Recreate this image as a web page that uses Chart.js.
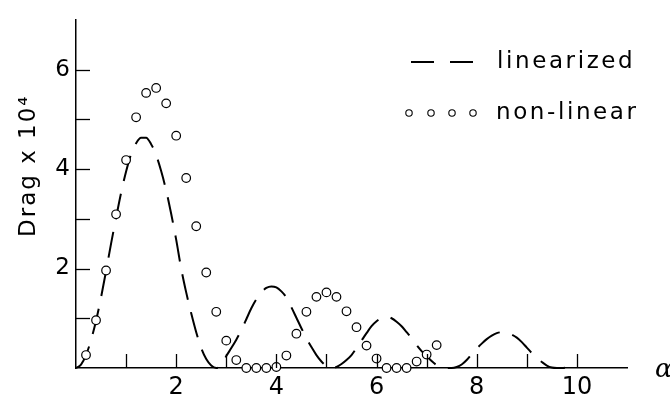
<!DOCTYPE html>
<html>
<head>
<meta charset="utf-8">
<script src="https://cdn.jsdelivr.net/npm/chart.js@4/dist/chart.umd.min.js"></script>
<style>
html,body{margin:0;padding:0;background:#fff;}
#wrap{width:670px;height:394px;position:relative;}
</style>
</head>
<body>
<div id="wrap"><canvas id="c" width="670" height="394"></canvas></div>
<script>
// ---- data ----
const linX = [0,0.1,0.2,0.3,0.4,0.5,0.6,0.7,0.8,0.9,1.0,1.1,1.2,1.3,1.4,1.5,1.6,1.7,1.8,1.9,
  2.0,2.1,2.2,2.3,2.4,2.5,2.6,2.7,2.8,2.9,3.0,3.1,3.2,3.3,3.4,3.5,3.6,3.7,3.8,3.9,
  4.0,4.1,4.2,4.3,4.4,4.5,4.6,4.7,4.8,4.9,5.0,5.1,5.2,5.3,5.4,5.5,5.6,5.7,5.8,5.9,
  6.0,6.1,6.2,6.3,6.4,6.5,6.6,6.7,6.8,6.9,7.0,7.1,7.2,7.3,7.4,7.5,7.6,7.7,7.8,7.9,
  8.0,8.1,8.2,8.3,8.4,8.5,8.6,8.7,8.8,8.9,9.0,9.1,9.2,9.3,9.4,9.5,9.6,9.7,9.8,9.9];
const linY = [0,0.07,0.26,0.56,0.95,1.42,1.95,2.50,3.02,3.52,3.95,4.30,4.52,4.63,4.63,4.50,4.28,3.96,3.57,3.10,
  2.58,2.00,1.52,1.10,0.72,0.40,0.18,0.05,0.0,0.06,0.24,0.40,0.57,0.76,0.98,1.20,1.38,1.52,1.61,1.64,
  1.62,1.54,1.42,1.22,1.01,0.80,0.60,0.42,0.26,0.13,0.04,0.0,0.02,0.08,0.16,0.26,0.40,0.55,0.70,0.84,
  0.94,1.00,1.03,1.00,0.93,0.84,0.72,0.60,0.46,0.34,0.24,0.14,0.06,0.02,0.0,0.0,0.02,0.07,0.16,0.28,
  0.39,0.49,0.58,0.65,0.70,0.72,0.71,0.67,0.61,0.52,0.41,0.30,0.20,0.12,0.05,0.01,0.0,0.0,0.01,0.03];
const nlX = [0.2,0.4,0.6,0.8,1.0,1.2,1.4,1.6,1.8,2.0,2.2,2.4,2.6,2.8,3.0,3.2,3.4,3.6,3.8,4.0,
  4.2,4.4,4.6,4.8,5.0,5.2,5.4,5.6,5.8,6.0,6.2,6.4,6.6,6.8,7.0,7.2];
const nlY = [0.26,0.96,1.96,3.09,4.18,5.04,5.53,5.63,5.32,4.67,3.82,2.85,1.92,1.13,0.55,0.16,0.0,0.0,0.0,0.02,
  0.25,0.69,1.13,1.43,1.52,1.43,1.14,0.82,0.45,0.19,0.0,0.0,0.0,0.13,0.27,0.46];
const xLabels = [2,4,6,8,10];
const yLabels = [2,4,6];
const seriesNames = ['linearized','non-linear'];
const yTitle = 'Drag x 10\u2074';
const xTitle = '\u03B1';

const FONT = '"DejaVu Sans", sans-serif';

const customPlugin = {
  id: 'custom',
  afterDraw(chart) {
    const ctx = chart.ctx;
    const xs = chart.scales.x, ys = chart.scales.y;
    const ca = chart.chartArea;
    ctx.save();
    ctx.strokeStyle = '#000';
    ctx.lineWidth = 1.3;
    // inward ticks
    const tl = 14;
    for (let v = 1; v <= 10; v++) {
      const px = Math.round(xs.getPixelForValue(v)) + 0.5;
      ctx.beginPath(); ctx.moveTo(px, ca.bottom); ctx.lineTo(px, ca.bottom - tl); ctx.stroke();
    }
    for (let v = 1; v <= 6; v++) {
      const py = Math.round(ys.getPixelForValue(v)) + 0.5;
      ctx.beginPath(); ctx.moveTo(ca.left, py); ctx.lineTo(ca.left + tl, py); ctx.stroke();
    }
    // legend
    const lin = chart.data.datasets[1], nl = chart.data.datasets[0];
    ctx.font = '23px ' + FONT;
    ctx.fillStyle = '#000';
    ctx.textBaseline = 'middle';
    ctx.textAlign = 'left';
    try { ctx.letterSpacing = '2.6px'; } catch(e) {}
    const ly1 = 62, ly2 = 113;
    ctx.save();
    ctx.lineWidth = lin.borderWidth;
    ctx.setLineDash([23, 16]);
    ctx.beginPath(); ctx.moveTo(411, ly1); ctx.lineTo(478, ly1); ctx.stroke();
    ctx.restore();
    ctx.fillText(lin.label, 497, ly1);
    ctx.lineWidth = 1.1;
    [409, 431, 452, 473].forEach(cx => {
      ctx.beginPath(); ctx.arc(cx, ly2, 3.2, 0, Math.PI * 2);
      ctx.fillStyle = '#fff'; ctx.fill(); ctx.stroke();
    });
    ctx.fillStyle = '#000';
    ctx.fillText(nl.label, 496, ly2);
    // y-axis title
    ctx.save();
    ctx.translate(35, 237);
    ctx.rotate(-Math.PI / 2);
    ctx.font = '23px ' + FONT;
    try { ctx.letterSpacing = '2px'; } catch(e) {}
    ctx.textBaseline = 'alphabetic';
    ctx.textAlign = 'left';
    ctx.fillText(yTitle, 0, 0);
    ctx.restore();
    try { ctx.letterSpacing = '0px'; } catch(e) {}
    // alpha axis label
    ctx.font = 'italic 26px "DejaVu Serif", serif';
    ctx.textBaseline = 'alphabetic';
    ctx.fillText(xTitle, 655, 377);
    ctx.restore();
  }
};

new Chart(document.getElementById('c'), {
  type: 'scatter',
  data: {
    datasets: [
      {
        label: seriesNames[1],
        data: nlX.map((x, i) => ({x: x, y: nlY[i]})),
        showLine: false,
        pointStyle: 'circle',
        pointRadius: 4.3,
        pointBorderWidth: 1.2,
        pointBorderColor: '#000',
        pointBackgroundColor: '#fff',
        borderColor: '#000',
        backgroundColor: '#fff',
        order: 0,
        clip: false
      },
      {
        label: seriesNames[0],
        data: linX.map((x, i) => ({x: x, y: linY[i]})),
        showLine: true,
        pointRadius: 0,
        borderColor: '#000',
        borderWidth: 2,
        borderDash: [26, 13],
        cubicInterpolationMode: 'monotone',
        fill: false,
        order: 1,
        clip: false
      }
    ]
  },
  options: {
    responsive: false,
    animation: false,
    devicePixelRatio: 1,
    layout: { padding: { top: 10, right: 43, left: 0, bottom: 0 } },
    plugins: { legend: { display: false }, tooltip: { enabled: false } },
    scales: {
      x: {
        type: 'linear', min: 0, max: 11,
        grid: { display: false, drawTicks: false },
        border: { display: true, color: '#000', width: 1.5 },
        ticks: {
          stepSize: 1, autoSkip: false, maxRotation: 0, padding: 5,
          color: '#000', font: { family: FONT, size: 24 },
          callback: v => xLabels.includes(v) ? String(v) : ''
        },
        afterFit: s => { s.height = 26; }
      },
      y: {
        type: 'linear', min: 0, max: 7,
        grid: { display: false, drawTicks: false },
        border: { display: true, color: '#000', width: 1.5 },
        ticks: {
          stepSize: 1, autoSkip: false, padding: 6,
          color: '#000', font: { family: FONT, size: 23 },
          callback: v => yLabels.includes(v) ? String(v) : ''
        },
        afterFit: s => { s.width = 76; }
      }
    }
  },
  plugins: [customPlugin]
});
</script>
</body>
</html>
